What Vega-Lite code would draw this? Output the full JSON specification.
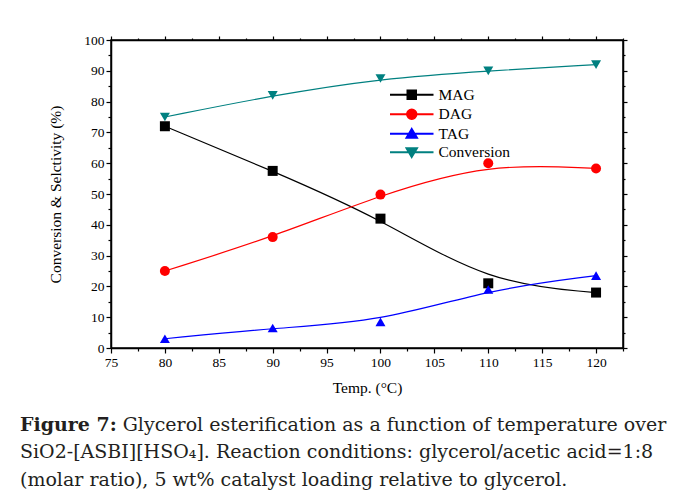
{
  "$schema": "https://vega.github.io/schema/vega-lite/v6.json",
  "autosize": "none",
  "width": 512,
  "height": 308,
  "padding": {"left": 111, "top": 40, "right": 55, "bottom": 146},
  "background": "white",
  "config": {
    "view": {"stroke": "black", "strokeWidth": 1.5},
    "axis": {
      "domainColor": "black", "domainWidth": 1.5, "tickColor": "black", "tickWidth": 1.2,
      "labelFont": "Liberation Serif", "labelFontSize": 13.5, "labelColor": "black",
      "titleFont": "Liberation Serif", "titleFontSize": 15.5, "titleFontWeight": "normal", "titleColor": "black",
      "grid": false
    }
  },
  "title": {
    "text": "Figure 7:",
    "subtitle": [
      "\u200b\u00a0\u00a0\u00a0\u00a0\u00a0\u00a0\u00a0\u00a0\u00a0\u00a0\u00a0\u00a0\u00a0\u00a0\u00a0\u00a0\u00a0Glycerol esterification as a function of temperature over",
      "SiO2-[ASBI][HSO\u2084]. Reaction conditions: glycerol/acetic acid=1:8",
      "(molar ratio), 5 wt% catalyst loading relative to glycerol."
    ],
    "orient": "bottom",
    "anchor": "start",
    "frame": "group",
    "dx": -91,
    "offset": 20,
    "font": "DejaVu Serif",
    "fontSize": 19,
    "fontWeight": "bold",
    "color": "#231f20",
    "subtitleFont": "DejaVu Serif",
    "subtitleFontSize": 19,
    "subtitleColor": "#231f20",
    "subtitleLineHeight": 27.5,
    "subtitlePadding": -19.3
  },
  "data": {
    "values": [
      {"temp": 80, "series": "MAG", "value": 72},
      {"temp": 90, "series": "MAG", "value": 57.5},
      {"temp": 100, "series": "MAG", "value": 42},
      {"temp": 110, "series": "MAG", "value": 21},
      {"temp": 120, "series": "MAG", "value": 18},
      {"temp": 80, "series": "DAG", "value": 25},
      {"temp": 90, "series": "DAG", "value": 36},
      {"temp": 100, "series": "DAG", "value": 49.8},
      {"temp": 110, "series": "DAG", "value": 60},
      {"temp": 120, "series": "DAG", "value": 58.3},
      {"temp": 80, "series": "TAG", "value": 3},
      {"temp": 90, "series": "TAG", "value": 6.5},
      {"temp": 100, "series": "TAG", "value": 8.5},
      {"temp": 110, "series": "TAG", "value": 19},
      {"temp": 120, "series": "TAG", "value": 23.5},
      {"temp": 80, "series": "Conversion", "value": 75},
      {"temp": 90, "series": "Conversion", "value": 82},
      {"temp": 100, "series": "Conversion", "value": 87.5},
      {"temp": 110, "series": "Conversion", "value": 90},
      {"temp": 120, "series": "Conversion", "value": 92}
    ]
  },
  "layer": [
    {
      "mark": {"type": "line", "interpolate": "basis", "strokeWidth": 1.2},
      "encoding": {
        "x": {
          "field": "temp", "type": "quantitative",
          "scale": {"domain": [75, 122.5], "nice": false, "zero": false},
          "axis": {
            "title": "Temp. (\u00b0C)", "titlePadding": 12,
            "values": [75, 77.5, 80, 82.5, 85, 87.5, 90, 92.5, 95, 97.5, 100, 102.5, 105, 107.5, 110, 112.5, 115, 117.5, 120, 122.5],
            "labelExpr": "datum.value % 5 === 0 ? datum.value : ''",
            "tickSize": {"condition": {"test": "datum.value % 5 === 0", "value": 5}, "value": 3},
            "labelPadding": 2, "labelFlush": false
          }
        },
        "y": {
          "field": "value", "type": "quantitative",
          "scale": {"domain": [0, 100], "nice": false},
          "axis": {
            "title": "Conversion & Selctivity (%)", "titlePadding": 20,
            "values": [0, 5, 10, 15, 20, 25, 30, 35, 40, 45, 50, 55, 60, 65, 70, 75, 80, 85, 90, 95, 100],
            "labelExpr": "datum.value % 10 === 0 ? datum.value : ''",
            "tickSize": {"condition": {"test": "datum.value % 10 === 0", "value": 5}, "value": 3},
            "labelPadding": 2, "labelFlush": false
          }
        },
        "color": {
          "field": "series", "type": "nominal",
          "scale": {"domain": ["MAG", "DAG", "TAG", "Conversion"], "range": ["#000000", "#ff0000", "#0000ff", "#008080"]},
          "legend": {
            "title": null, "orient": "none", "legendX": 293, "legendY": 47,
            "labelFont": "Liberation Serif", "labelFontSize": 15.5, "labelColor": "black",
            "symbolSize": 81, "symbolOpacity": 1, "labelOffset": 19, "rowPadding": 1.5, "padding": 0
          }
        }
      }
    },
    {
      "mark": {
        "type": "point", "filled": true, "opacity": 1, "size": 100,
        "shape": {"expr": "datum.series === 'MAG' ? 'square' : datum.series === 'DAG' ? 'circle' : datum.series === 'TAG' ? 'triangle-up' : 'triangle-down'"}
      },
      "encoding": {
        "x": {
          "field": "temp", "type": "quantitative",
          "axis": {
            "orient": "top", "title": null, "labels": false,
            "values": [75, 77.5, 80, 82.5, 85, 87.5, 90, 92.5, 95, 97.5, 100, 102.5, 105, 107.5, 110, 112.5, 115, 117.5, 120, 122.5],
            "tickSize": {"condition": {"test": "datum.value % 5 === 0", "value": 4}, "value": 2}
          }
        },
        "y": {
          "field": "value", "type": "quantitative",
          "axis": {
            "orient": "right", "title": null, "labels": false,
            "values": [0, 5, 10, 15, 20, 25, 30, 35, 40, 45, 50, 55, 60, 65, 70, 75, 80, 85, 90, 95, 100],
            "tickSize": {"condition": {"test": "datum.value % 10 === 0", "value": 4}, "value": 2}
          }
        },
        "color": {"field": "series", "type": "nominal", "legend": null}
      }
    },
    {
      "mark": {"type": "point", "filled": true, "opacity": 0, "size": 81},
      "encoding": {
        "x": {"field": "temp", "type": "quantitative", "axis": null},
        "y": {"field": "value", "type": "quantitative", "axis": null},
        "color": {"field": "series", "type": "nominal", "legend": null},
        "shape": {
          "field": "series", "type": "nominal",
          "scale": {
            "domain": ["MAG", "DAG", "TAG", "Conversion"],
            "range": [
              "M-4.67,-0.08H4.67V0.08H-4.67ZM-1,-1H1V1H-1Z",
              "M-4.67,-0.08H4.67V0.08H-4.67ZM1.1,0A1.1,1.1,0,1,1,-1.1,0A1.1,1.1,0,1,1,1.1,0Z",
              "M-4.67,-0.08H4.67V0.08H-4.67ZM0,-1.15L1.25,0.95H-1.25Z",
              "M-4.67,-0.08H4.67V0.08H-4.67ZM0,1.15L1.25,-0.95H-1.25Z"
            ]
          },
          "legend": null
        }
      }
    }
  ],
  "resolve": {"axis": {"x": "independent", "y": "independent"}}
}
